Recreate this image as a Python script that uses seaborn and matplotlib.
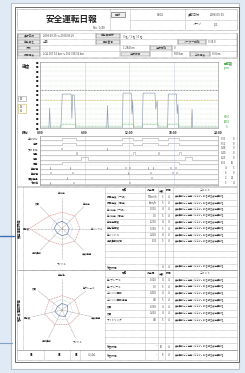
import numpy as np
import pandas as pd
import matplotlib
matplotlib.use("Agg")
import matplotlib.pyplot as plt
import seaborn as sns

# ---------------- data ----------------
speed_t = [0, 1.2, 1.3, 1.4, 2.8, 2.9, 3.0, 4.2, 4.3, 4.4, 4.6, 4.7, 4.8,
           9.0, 9.1, 9.2, 11.1, 11.2, 12.3, 12.4, 12.5, 12.6,
           13.8, 13.9, 15.5, 15.6, 15.8, 15.9, 17.2, 17.3, 18.4, 18.5, 18.6, 18.7,
           20.4, 20.5, 20.6, 24]
speed_v = [0, 0, 42, 0, 0, 30, 72, 72, 20, 70, 70, 45, 0,
           0, 48, 0, 0, 74, 74, 30, 60, 0,
           0, 74, 74, 40, 58, 0, 0, 72, 72, 30, 50, 0,
           0, 40, 0, 0]
sub_t = [0, 2.9, 3.0, 4.8, 4.9, 11.1, 11.2, 12.6, 12.7, 13.8, 13.9, 15.9, 16.0, 17.2, 17.3, 18.7, 18.8, 24]
sub_v = [4, 4, 8, 8, 4, 4, 8, 8, 4, 4, 8, 8, 4, 4, 8, 8, 4, 4]
speed_limit = [80, 60]
speed_ticks = list(range(0, 141, 10))
time_ticks = [0, 6, 12, 18, 24]
time_labels = ["0:00", "6:00", "12:00", "18:00", "24:00"]

step_labels = ["エンジン", "走行", "アイドル", "停車", "荷役", "休憩", "急加速", "急減速", "速度超過", "その他"]
step_starts = [[3.0, 11.1, 13.8, 17.2], [3.0, 11.1, 13.8, 17.2], [2.8, 9.0], [4.8, 12.6, 15.9, 18.7],
               [5.5, 19.5], [3.0], [1.3, 4.0, 9.0, 11.5, 12.0, 14.5, 15.2, 17.5, 18.2], [1.4, 4.3, 11.8, 14.8, 17.8, 18.4],
               [3.6, 15.0], [1.3, 4.5, 12.0]]
step_ends = [[4.8, 12.6, 15.9, 18.7], [4.8, 12.6, 15.9, 18.7], [3.0, 9.1], [5.0, 12.8, 16.1, 19.0],
             [6.5, 20.5], [18.7], [1.35, 4.1, 9.1, 11.6, 12.1, 14.6, 15.3, 17.6, 18.3], [1.5, 4.4, 11.9, 14.9, 17.9, 18.5],
             [3.7, 15.1], [1.4, 4.6, 12.1]]
step_right1 = ["7:35", "5:12", "0:48", "0:40", "3:25", "1:35", "4", "6", "2", "3"]
step_right2 = ["0", "0", "0", "0", "0", "10", "3", "0", "21", "4"]

radar1_labels = ["急加速", "急減速", "急ハンドル", "速度超過", "アイドル", "連続運転", "回転数", "燃費"]
radar1_ref = [0.45, 0.5, 0.5, 0.5, 0.45, 0.5, 0.9, 0.5]
radar1_val = [0.2, 0.18, 0.2, 0.22, 0.2, 0.18, 0.22, 0.2]
radar2_labels = ["急発進", "急ブレーキ", "速度超過", "アイドル", "連続運転", "回転数", "燃費"]
radar2_ref = [0.4, 0.45, 0.5, 0.45, 0.45, 0.5, 0.45]
radar2_val = [0.18, 0.2, 0.16, 0.2, 0.18, 0.2, 0.16]

table1_items = ["最高速度（一般）", "最高速度（高速）", "急 加速（一般）", "急 加速（高速）", "急減速回数", "急発進回数",
                "急ハンドル", "連続運転時間", "", "", "", "総合評価"]
table1_vals = ["78km/h", "0km/h", "0.10G", "0.0", "1.20G", "0.35G", "0.22G", "3:10", "", "", "", "–"]
table1_pts = ["5", "5", "4", "5", "4", "5", "4", "5", "", "", "", "4"]
table2_items = ["急 ブレーキ", "急 ブレーキ", "エンジン回転", "エンジン回転超過", "燃費", "燃費", "アイドリング",
                "", "", "", "総合評価", "総合評価"]
table2_vals = ["0.32G", "0.0", "0.40G", "4.0", "0.35G", "0.22G", "4.0", "", "", "", "–", "–"]
table2_pts = ["4", "5", "4", "5", "4", "4", "5", "", "", "", "10", "8"]

# ---------------- figure ----------------
sns.set_theme(style="white")
plt.rcParams["font.family"] = ["Noto Sans CJK JP", "DejaVu Sans"]
W, H = 245, 373
fig = plt.figure(figsize=(2.45, 3.73), dpi=100)
fig.patch.set_facecolor("#dfeaf4")

def box(x0, y0, x1, y1):
    return [x0 / W, 1 - y1 / H, (x1 - x0) / W, (y1 - y0) / H]

bg = fig.add_axes([0, 0, 1, 1])
bg.set_xlim(0, W)
bg.set_ylim(H, 0)
bg.axis("off")
GRAY = "#8c8c8c"
TXT = "#444444"

# paper
bg.add_patch(plt.Rectangle((11, 3), 228, 366, facecolor="white", edgecolor="#b9c2cc", lw=0.8))
bg.add_patch(plt.Rectangle((15, 7), 224, 355, facecolor="white", edgecolor="#555555", lw=0.6))
bg.plot([0, 14], [236, 236], color="#3d6fb0", lw=1.0)
bg.plot([0, 12], [343, 343], color="#7f9fc8", lw=0.8)

def hline(y, x0, x1, ls=(0, (1, 1)), c=GRAY, lw=0.4):
    bg.plot([x0, x1], [y, y], color=c, lw=lw, ls=ls)

def vline(x, y0, y1, ls=(0, (1, 1)), c=GRAY, lw=0.4):
    bg.plot([x, x], [y0, y1], color=c, lw=lw, ls=ls)

def t(x, y, s, size=2.4, ha="left", **kw):
    bg.text(x, y, s, fontsize=size, ha=ha, va="center", color=kw.pop("color", TXT), **kw)

# header
bg.add_patch(plt.Rectangle((17, 9), 220, 21, fill=False, edgecolor="#555555", lw=0.4, ls=(0, (1, 1))))
t(46, 19, "安全運転日報", size=6.2, color="#222222", fontweight="bold")
t(93, 27.5, "No. 1/40", size=2.2)
vline(110, 9, 30)
bg.add_patch(plt.Rectangle((111, 12), 14, 5, facecolor="#eeeeee", edgecolor="#555555", lw=0.4))
t(118, 14.5, "区分", size=2.2, ha="center")
vline(130, 9, 30)
hline(20, 130, 237)
t(160, 14.5, "0002", size=2.4, ha="center")
vline(185, 9, 30)
t(188, 14.5, "運転日付", size=2.2)
t(210, 14.5, "2008.09.25", size=2.2)
t(193, 24, "ページ", size=2.2)
t(214, 24, "1/1", size=2.2)

# info rows
for y in [33, 39, 45, 51, 57]:
    hline(y, 17, 237)
vline(17, 33, 57, ls="-", c="#666666")
vline(237, 33, 57, ls="-", c="#666666")
info = [
    [(18, 33, 40, "運行日時", True), (41, 33, 96, "2008.09.25 ～ 2008.09.25", False), (96, 33, 120, "乗務員区分", True), (121, 33, 237, "3 名 / 1 名 / 0 名", False)],
    [(18, 39, 40, "乗務員名", True), (41, 39, 96, "山田", False), (96, 39, 120, "車両番号", True), (121, 39, 178, "", False), (178, 39, 206, "メーター距離", True), (206, 39, 237, "9 34.0", False)],
    [(18, 45, 40, "行先", True), (41, 45, 120, "", False), (121, 45, 150, "1 284 km", False), (150, 45, 172, "走行距離", True), (172, 45, 237, "0", False)],
    [(18, 51, 40, "最高速度", True), (41, 51, 120, "LCA 107 10 km ～ 152 338 10 km", False), (121, 51, 150, "走行時間", True), (150, 51, 172, "", False), (172, 51, 190, "500 km", False), (190, 51, 210, "平均速度", True), (210, 51, 237, "0.0 km", False)],
]
for row in info:
    for (x0, y0, x1, s, lab) in row:
        if lab:
            bg.add_patch(plt.Rectangle((x0, y0 + 0.6), x1 - x0, 4.8, facecolor="#e8e8e8", edgecolor="#777777", lw=0.3))
        vline(x1, y0, y0 + 6, ls="-", c="#888888", lw=0.3)
        t((x0 + x1) / 2 if lab else x0 + 2, y0 + 3, s, size=2.0, ha="center" if lab else "left")

# speed chart frame
bg.add_patch(plt.Rectangle((17, 58), 220, 128, fill=False, edgecolor="#666666", lw=0.4, ls=(0, (1, 1))))
t(22, 66, "速度", size=3.0, color="#333333", fontweight="bold")
bg.add_patch(plt.Rectangle((17.5, 96), 8, 5, fill=False, edgecolor="#999999", lw=0.4))
t(21.5, 98.5, "80", size=2.0, ha="center")
bg.add_patch(plt.Rectangle((17.5, 104), 8, 9, fill=False, edgecolor="#c8b45a", lw=0.4))
t(21.5, 106.5, "60", size=2.0, ha="center")
t(21.5, 110.5, "40", size=2.0, ha="center")
t(224, 63, "回転数", size=2.2, color="#3a9a3a", fontweight="bold")
t(224, 68, "rpm", size=2.2, color="#3a9a3a")
t(224, 117, "3000", size=2.0, color="#3a9a3a")
t(224, 122, "2000", size=2.0, color="#3a9a3a")
t(226, 127, "0", size=2.0, color="#3a9a3a")

ax = fig.add_axes(box(40, 62, 218, 128))
df = pd.DataFrame({"時刻": speed_t, "速度": speed_v})
sns.lineplot(data=df, x="時刻", y="速度", ax=ax, color="#8e98b0", lw=0.45, estimator=None, sort=False)
ax.plot(sub_t, sub_v, color="#6cc06c", lw=0.45, ls=(0, (1.5, 0.8)))
for lv, c in zip(speed_limit, ["#666666", "#c8b45a"]):
    ax.axhline(lv, color=c, lw=0.5, ls=(0, (1.2, 1)))
ax.set_xlim(0, 24)
ax.set_ylim(0, 140)
ax.set_yticks(speed_ticks)
ax.set_yticklabels(["■"] * len(speed_ticks), fontsize=1.8, color="#222222")
ax.set_xticks(time_ticks)
ax.set_xticklabels([])
ax.tick_params(axis="both", length=0, pad=1)
for yv in speed_ticks:
    ax.axhline(yv, color="#b5d6ad", lw=0.3, ls=(0, (1, 1)), zorder=0)
for xv in time_ticks:
    ax.axvline(xv, color="#9aa6c8", lw=0.4, ls=(0, (1, 1)), zorder=0)
ax.set_xlabel("")
ax.set_ylabel("")
for s in ax.spines.values():
    s.set_color("#8a8a8a")
    s.set_linewidth(0.4)
    s.set_linestyle((0, (1, 1)))

for tk, lb in zip(time_ticks, time_labels):
    t(40 + tk / 24 * 178, 132.5, lb, size=2.3, ha="center", color="#222222", fontweight="bold")
t(22, 132.5, "時刻", size=2.3, color="#222222", fontweight="bold")

# step chart
ax2 = fig.add_axes(box(40, 136, 218, 185))
n = len(step_labels)
for i, (lab, st, en) in enumerate(zip(step_labels, step_starts, step_ends)):
    base = n - 1 - i
    xs, ys = [0], [base + 0.2]
    for a, b in zip(st, en):
        xs += [a, a, b, b]
        ys += [base + 0.2, base + 0.65, base + 0.65, base + 0.2]
    xs.append(24)
    ys.append(base + 0.2)
    ax2.plot(xs, ys, color="#a6a6a6", lw=0.4)
    ax2.axhline(base, color="#c4c4c4", lw=0.3, ls=(0, (1, 1)))
ax2.set_xlim(0, 24)
ax2.set_ylim(0, n)
ax2.set_yticks([n - 1 - i + 0.45 for i in range(n)])
ax2.set_yticklabels(step_labels, fontsize=1.9, color="#222222", fontweight="bold")
ax2.set_xticks([])
ax2.tick_params(axis="y", length=0, pad=1)
for xv in time_ticks:
    ax2.axvline(xv, color="#9aa6c8", lw=0.4, ls=(0, (1, 1)))
for s in ax2.spines.values():
    s.set_color("#8a8a8a")
    s.set_linewidth(0.4)
    s.set_linestyle((0, (1, 1)))
for i in range(n):
    yy = 136 + (i + 0.55) * 49 / n
    t(226, yy, step_right1[i], size=1.9, ha="right")
    t(234, yy, step_right2[i], size=1.9, ha="right")

# lower sections
def section(y0, y1, title, items, vals, pts, rlabels, rref, rval):
    bg.add_patch(plt.Rectangle((17, y0), 220, y1 - y0, fill=False, edgecolor="#666666", lw=0.4, ls=(0, (1, 1))))
    vline(23, y0, y1)
    bg.text(19.5, (y0 + y1) / 2, title, fontsize=2.3, rotation=90, ha="center", va="center", color="#222222", fontweight="bold")
    vline(105, y0, y1)
    cols = [105, 145, 158, 165, 173, 237]
    for c in cols[1:-1]:
        vline(c, y0, y1)
    rows = len(items) + 1
    rh = (y1 - y0) / rows
    heads = ["項目", "測定値", "点数", "評価", "コメント"]
    for j, h in enumerate(heads):
        t((cols[j] + cols[j + 1]) / 2, y0 + rh / 2, h, size=2.0, ha="center", color="#222222")
    for r in range(rows):
        hline(y0 + rh * (r + 1), 105, 237)
    for r, (it, v, p) in enumerate(zip(items, vals, pts)):
        yy = y0 + rh * (r + 1.5)
        if it:
            t(107, yy, it, size=1.9, color="#333333")
            t(157, yy, v, size=1.9, ha="right")
            t(163, yy, p, size=1.9, ha="right")
            t(169, yy, "4", size=1.9, ha="center")
            t(175, yy, "安全運転にご注意ください。引き続き安全運転を", size=1.65)
    cx, cy = 62, (y0 + y1) / 2
    R = 36
    rax = fig.add_axes(box(cx - R, cy - R, cx + R, cy + R), projection="polar")
    rax.set_theta_zero_location("N")
    rax.set_theta_direction(-1)
    k = len(rlabels)
    ang = np.linspace(0, 2 * np.pi, k, endpoint=False)
    for a in ang:
        rax.plot([a, a], [0, 0.86], color="#8d8d8d", lw=0.4, ls=(0, (1.5, 1)))
    angc = np.append(ang, ang[0])
    rax.plot(angc, np.append(rref, rref[0]), color="#d98a8a", lw=0.5, ls=(0, (1.5, 1)))
    rax.plot(angc, np.append(rval, rval[0]), color="#6f83b8", lw=0.5)
    rax.plot(angc, [0.3] * (k + 1), color="#a0a0a0", lw=0.3, ls=(0, (1, 1)))
    rax.set_ylim(0, 1)
    rax.axis("off")
    rax.patch.set_alpha(0)
    for a, lab in zip(ang, rlabels):
        x = cx + np.sin(a) * R * 0.98
        y = cy - np.cos(a) * R * 0.98
        t(x, y, lab, size=1.8, ha="center", color="#333333")

section(187, 270, "安全運転評価", table1_items, table1_vals, table1_pts, radar1_labels, radar1_ref, radar1_val)
section(270, 350, "省エネ運転評価", table2_items[:-1], table2_vals[:-1], table2_pts[:-1], radar2_labels, radar2_ref, radar2_val)

# bottom row
bg.add_patch(plt.Rectangle((17, 350), 220, 10, fill=False, edgecolor="#666666", lw=0.4, ls=(0, (1, 1))))
for x in [44, 70, 80, 105, 145, 158, 165, 173]:
    vline(x, 350, 360)
t(30, 355, "88", size=2.2, color="#222222", fontweight="bold")
t(58, 355, "88", size=2.2, color="#222222", fontweight="bold")
t(75, 355, "88", size=2.2, color="#222222", fontweight="bold")
t(88, 355, "4 /4x1", size=1.9)
t(107, 355, table2_items[-1], size=1.9)
t(157, 355, table2_vals[-1], size=1.9, ha="right")
t(163, 355, table2_pts[-1], size=1.9, ha="right")
t(169, 355, "4", size=1.9, ha="center")
t(175, 355, "安全運転にご注意ください。引き続き安全運転を", size=1.65)

fig.savefig("out.png", dpi=100, facecolor=fig.get_facecolor())
